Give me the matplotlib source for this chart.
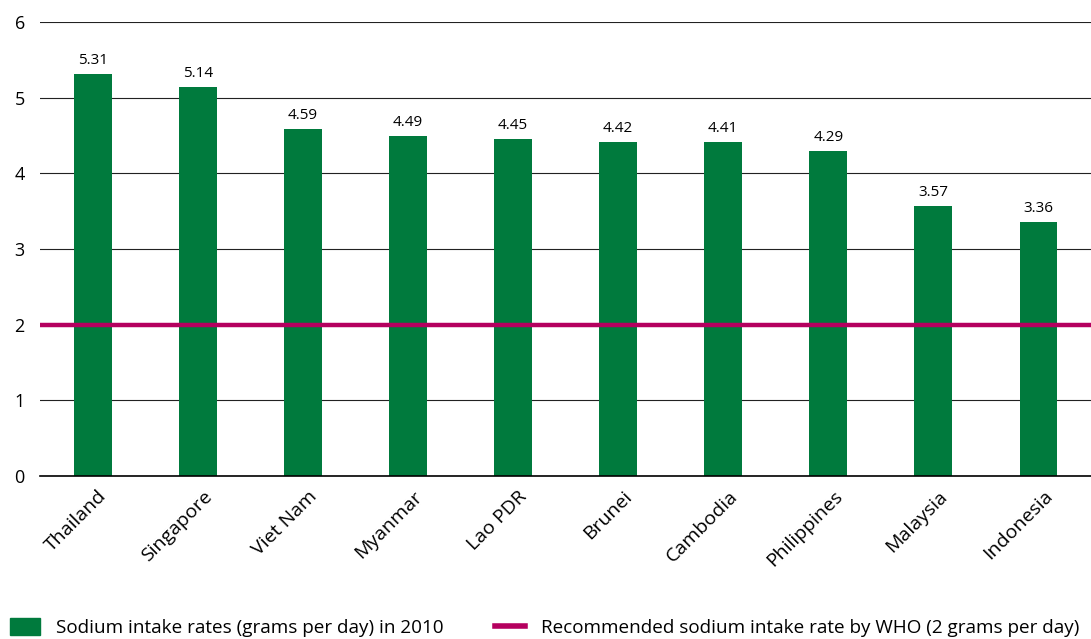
import numpy as np
import matplotlib.pyplot as plt
from matplotlib.patches import Patch
from matplotlib.lines import Line2D
from matplotlib.transforms import ScaledTranslation

plt.rcParams['font.family'] = ['Open Sans', 'DejaVu Sans']

countries = ['Thailand', 'Singapore', 'Viet Nam', 'Myanmar', 'Lao PDR',
             'Brunei', 'Cambodia', 'Philippines', 'Malaysia', 'Indonesia']
intake = [5.31, 5.14, 4.59, 4.49, 4.45, 4.42, 4.41, 4.29, 3.57, 3.36]
who_level = 2
yticks = [0, 1, 2, 3, 4, 5, 6]

green = '#007a3d'
magenta = '#b5005f'

fig = plt.figure(figsize=(10.91, 6.39), dpi=100)
ax = fig.add_axes([0.0367, 0.255, 0.9633, 0.7105])

x = np.arange(len(countries))
ax.bar(x, intake, width=0.36, color=green, zorder=2)
for xi, v in zip(x, intake):
    ax.text(xi, v + 0.08, '%.2f' % v, ha='center', va='bottom', fontsize=11)

ax.axhline(who_level, color=magenta, lw=3.2, zorder=3)

ax.set_xlim(-0.5, len(countries) - 0.5)
ax.set_ylim(0, 6)
ax.set_yticks(yticks)
ax.set_yticklabels([str(t) for t in yticks], fontsize=13)
ax.yaxis.grid(True, color='#222222', lw=0.8, zorder=0)
ax.set_axisbelow(True)
ax.set_xticks(x)
ax.set_xticklabels(countries, rotation=45, ha='right', rotation_mode='anchor', fontsize=14)
ax.tick_params(axis='both', length=0)
ax.tick_params(axis='y', pad=11)
ax.tick_params(axis='x', pad=8)
# nudge the rotated labels a little to the right
shift = ScaledTranslation(5 / 100, 0, fig.dpi_scale_trans)
for lab in ax.get_xticklabels():
    lab.set_transform(lab.get_transform() + shift)
for s in ['top', 'right', 'left']:
    ax.spines[s].set_visible(False)
ax.spines['bottom'].set_linewidth(1.2)

handles = [Patch(color=green), Line2D([0], [0], color=magenta, lw=4)]
labels = ['Sodium intake rates (grams per day) in 2010',
          'Recommended sodium intake rate by WHO (2 grams per day)']
fig.legend(handles, labels, loc='lower left', bbox_to_anchor=(10 / 1091, 2 / 639), ncol=2,
           frameon=False, fontsize=13.6, handlelength=1.6, handleheight=1.0,
           columnspacing=2.7, handletextpad=0.85, borderpad=0, borderaxespad=0)

fig.savefig('out.png', dpi=100)
